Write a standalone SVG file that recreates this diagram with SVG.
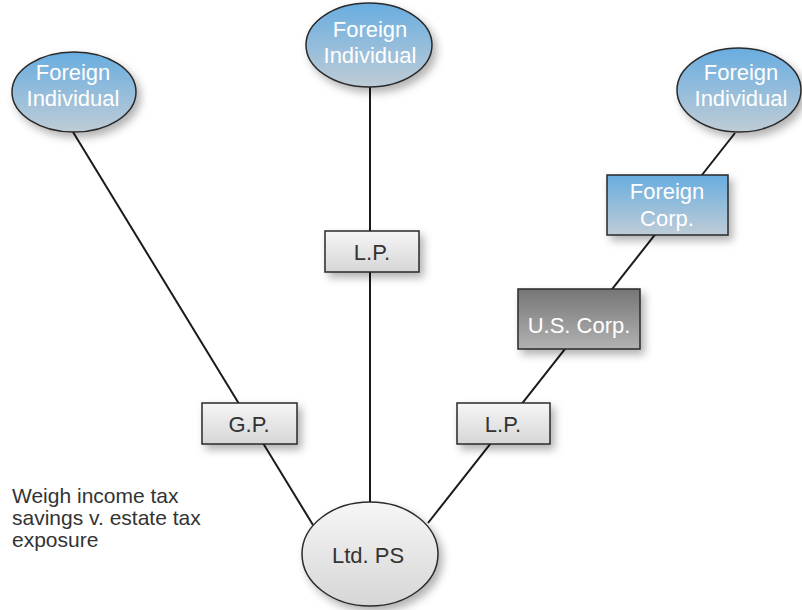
<svg xmlns="http://www.w3.org/2000/svg" width="802" height="610" viewBox="0 0 802 610">
  <defs>
    <linearGradient id="blue" x1="0" y1="0" x2="0" y2="1">
      <stop offset="0" stop-color="#68ade0"/>
      <stop offset="1" stop-color="#bfccd6"/>
    </linearGradient>
    <linearGradient id="light" x1="0" y1="0" x2="0" y2="1">
      <stop offset="0" stop-color="#f6f6f6"/>
      <stop offset="1" stop-color="#d6d6d6"/>
    </linearGradient>
    <linearGradient id="dark" x1="0" y1="0" x2="0" y2="1">
      <stop offset="0" stop-color="#767676"/>
      <stop offset="1" stop-color="#b2b2b2"/>
    </linearGradient>
    <filter id="shadow" x="-20%" y="-20%" width="150%" height="160%">
      <feDropShadow dx="4" dy="5" stdDeviation="4" flood-color="#000" flood-opacity="0.3"/>
    </filter>
  </defs>
  <style>
    .shape { stroke: #2a2a2a; stroke-width: 1.5; filter: url(#shadow); }
    .blue { fill: url(#blue); }
    .light { fill: url(#light); }
    .dark { fill: url(#dark); }
    .lbl { font-family: "Liberation Sans", Arial, sans-serif; font-size: 22px; text-anchor: middle; }
    .w { fill: #ffffff; }
    .k { fill: #333333; }
    .conn { stroke: #1a1a1a; stroke-width: 2; fill: none; }
    .note { font-family: "Liberation Sans", Arial, sans-serif; font-size: 21px; fill: #333333; }
  </style>
  <rect width="802" height="610" fill="#ffffff"/>
  <g id="connectors">
    <line class="conn" x1="73" y1="132" x2="313" y2="525"/>
    <line class="conn" x1="370" y1="87" x2="370" y2="502"/>
    <line class="conn" x1="428" y1="523" x2="735" y2="133"/>
  </g>
  <g id="fi-left">
    <ellipse class="shape blue" cx="74" cy="92" rx="62" ry="40"/>
    <text class="lbl w" x="73" y="80">Foreign</text>
    <text class="lbl w" x="73" y="106">Individual</text>
  </g>
  <g id="fi-top">
    <ellipse class="shape blue" cx="369" cy="45" rx="63" ry="42"/>
    <text class="lbl w" x="370" y="37">Foreign</text>
    <text class="lbl w" x="370" y="63">Individual</text>
  </g>
  <g id="fi-right">
    <ellipse class="shape blue" cx="739" cy="90" rx="62" ry="42"/>
    <text class="lbl w" x="741" y="80">Foreign</text>
    <text class="lbl w" x="741" y="106">Individual</text>
  </g>
  <g id="foreign-corp">
    <rect class="shape blue" x="607" y="175" width="121" height="60"/>
    <text class="lbl w" x="667" y="199">Foreign</text>
    <text class="lbl w" x="667" y="226">Corp.</text>
  </g>
  <g id="us-corp">
    <rect class="shape dark" x="518" y="289" width="122" height="60"/>
    <text class="lbl w" x="579" y="333">U.S. Corp.</text>
  </g>
  <g id="lp-top">
    <rect class="shape light" x="325" y="231" width="94" height="41"/>
    <text class="lbl k" x="372" y="260">L.P.</text>
  </g>
  <g id="gp">
    <rect class="shape light" x="202" y="403" width="95" height="41"/>
    <text class="lbl k" x="249" y="432">G.P.</text>
  </g>
  <g id="lp-bottom">
    <rect class="shape light" x="457" y="403" width="93" height="41"/>
    <text class="lbl k" x="503" y="432">L.P.</text>
  </g>
  <g id="ltd-ps">
    <ellipse class="shape light" cx="370" cy="554" rx="68" ry="52"/>
    <text class="lbl k" x="368" y="563">Ltd. PS</text>
  </g>
  <g id="note">
    <text class="note" x="12" y="503">Weigh income tax</text>
    <text class="note" x="12" y="525">savings v. estate tax</text>
    <text class="note" x="12" y="547">exposure</text>
  </g>
</svg>
